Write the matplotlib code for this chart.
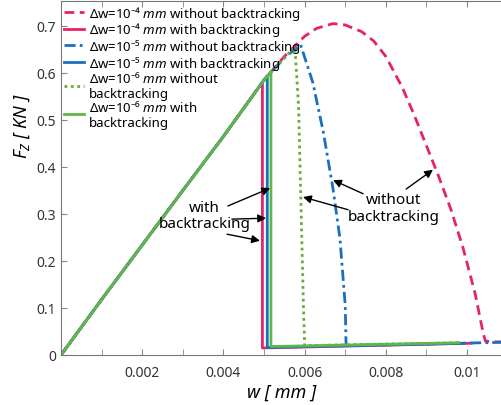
import matplotlib
matplotlib.use('Agg')
import matplotlib.pyplot as plt
from matplotlib.ticker import MultipleLocator

plt.rcParams['font.family'] = ['Noto Sans', 'DejaVu Sans']
plt.rcParams['mathtext.fontset'] = 'custom'
plt.rcParams['mathtext.rm'] = 'Noto Sans'
plt.rcParams['mathtext.it'] = 'Noto Sans:italic'

# values (w in mm, Fz in kN)
w_rise = [0, 0.001, 0.002, 0.003, 0.004, 0.005]
f_rise = [0, 0.118, 0.234, 0.35, 0.465, 0.585]

# dw = 1e-4 mm
w_4_no = w_rise + [0.0055, 0.006, 0.0063, 0.0067, 0.007, 0.0074, 0.0077, 0.008, 0.0084, 0.0087,
                   0.009, 0.0093, 0.0096, 0.0099, 0.0102, 0.0104, 0.01045, 0.0106, 0.0109]
f_4_no = f_rise + [0.635, 0.678, 0.695, 0.705, 0.702, 0.688, 0.668, 0.635, 0.57, 0.51,
                   0.445, 0.38, 0.31, 0.228, 0.13, 0.045, 0.03, 0.028, 0.028]
w_4_bt = w_rise[:-1] + [0.00496, 0.00496, 0.0101]
f_4_bt = f_rise[:-1] + [0.58, 0.015, 0.025]

# dw = 1e-5 mm
w_5_no = w_rise + [0.0055, 0.0059, 0.0062, 0.00646, 0.0067, 0.00687, 0.007, 0.00702, 0.0109]
f_5_no = f_rise + [0.632, 0.66, 0.58, 0.474, 0.353, 0.247, 0.105, 0.02, 0.027]
w_5_bt = w_rise + [0.00508, 0.00508, 0.0099]
f_5_bt = f_rise + [0.594, 0.016, 0.025]

# dw = 1e-6 mm
w_6_no = w_rise + [0.0055, 0.00576, 0.00585, 0.0059, 0.00597, 0.006, 0.0098]
f_6_no = f_rise + [0.632, 0.655, 0.53, 0.353, 0.105, 0.02, 0.026]
w_6_bt = w_rise + [0.00517, 0.00517, 0.0098]
f_6_bt = f_rise + [0.603, 0.018, 0.026]

pink = '#e8226a'
blue = '#1a6fc0'
green = '#5cb84a'
green_dot = '#6aaa3a'

fig = plt.figure(figsize=(5.02, 4.06), dpi=100)
ax = fig.add_axes([61/502, 50/406, 441/502, 354/406])

ax.plot(w_4_no, f_4_no, color=pink, lw=2, dashes=(3.5, 2),
        label='Δw=10⁻⁴ $mm$ without backtracking')
ax.plot(w_4_bt, f_4_bt, color=pink, lw=2,
        label='Δw=10⁻⁴ $mm$ with backtracking')
ax.plot(w_5_no, f_5_no, color=blue, lw=2, dashes=(4, 1.5, 1, 1.5),
        label='Δw=10⁻⁵ $mm$ without backtracking')
ax.plot(w_5_bt, f_5_bt, color=blue, lw=2,
        label='Δw=10⁻⁵ $mm$ with backtracking')
ax.plot(w_6_no, f_6_no, color=green_dot, lw=2, dashes=(1, 1.3),
        label='Δw=10⁻⁶ $mm$ without\nbacktracking')
ax.plot(w_6_bt, f_6_bt, color=green, lw=2,
        label='Δw=10⁻⁶ $mm$ with\nbacktracking')

ax.set_xlim(0, 0.01086)
ax.set_ylim(0, 0.753)
ax.set_xticks([0.002, 0.004, 0.006, 0.008, 0.01],
              labels=['0.002', '0.004', '0.006', '0.008', '0.01'])
ax.xaxis.set_minor_locator(MultipleLocator(0.001))
ax.set_yticks([0, 0.1, 0.2, 0.3, 0.4, 0.5, 0.6, 0.7],
              labels=['0', '0.1', '0.2', '0.3', '0.4', '0.5', '0.6', '0.7'])
ax.tick_params(which='both', direction='in', top=True, length=4, color='#888888',
               labelsize=10, labelcolor='#333333')
ax.tick_params(axis='x', pad=7)
ax.spines['right'].set_visible(False)
for s in ['left', 'bottom', 'top']:
    ax.spines[s].set_color('#777777')

ax.set_xlabel('w [ mm ]', fontsize=13, style='italic', labelpad=2)
ax.set_ylabel('F$_Z$ [ KN ]', fontsize=13, style='italic')
ax.yaxis.set_label_coords(-0.065, 0.65)

leg = ax.legend(loc='upper left', bbox_to_anchor=(0, 1), frameon=False, fontsize=9.5,
                handlelength=1.55, handletextpad=0.4, labelspacing=-0.1,
                borderaxespad=0.1, borderpad=0.1)
for t in leg.get_texts():
    t.set_linespacing(1.2)

arr = dict(arrowstyle='-|>', color='black', lw=1, mutation_scale=12, shrinkA=0, shrinkB=0)
ax.text(0.00353, 0.297, 'with\nbacktracking', ha='center', va='center', fontsize=11,
        linespacing=1.15)
ax.annotate('', xy=(0.00515, 0.355), xytext=(0.00411, 0.317), arrowprops=arr)
ax.annotate('', xy=(0.00505, 0.291), xytext=(0.00421, 0.289), arrowprops=arr)
ax.annotate('', xy=(0.0049, 0.243), xytext=(0.00409, 0.257), arrowprops=arr)

ax.text(0.0082, 0.313, 'without\nbacktracking', ha='center', va='center', fontsize=11,
        linespacing=1.15)
ax.annotate('', xy=(0.0067, 0.372), xytext=(0.00744, 0.343), arrowprops=arr)
ax.annotate('', xy=(0.00596, 0.336), xytext=(0.00707, 0.309), arrowprops=arr)
ax.annotate('', xy=(0.00916, 0.394), xytext=(0.0085, 0.353), arrowprops=arr)

fig.savefig('out.png', dpi=100)
